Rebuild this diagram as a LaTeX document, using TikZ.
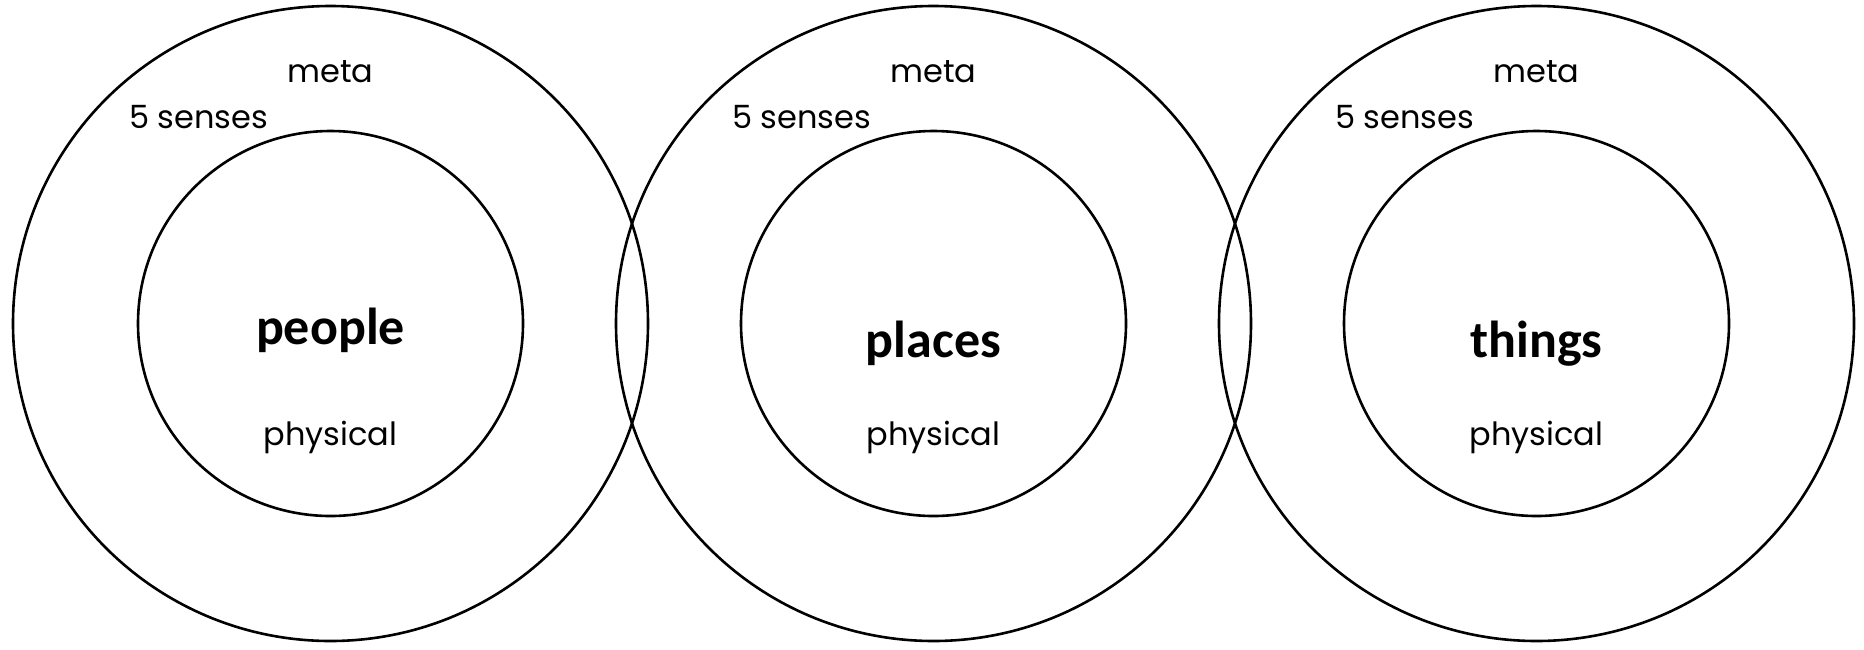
\documentclass[tikz,border=0pt]{standalone}
\usepackage{fontspec}
\setmainfont{Carlito}
\newfontfamily\handfont{Poppins}
\tikzset{
  ring/.style={draw=black, line width=2.6pt, circle, inner sep=0pt},
  hand/.style={font=\handfont\fontsize{32}{38}\selectfont, anchor=base, inner sep=0pt},
  title/.style={font=\bfseries\fontsize{52}{60}\selectfont, anchor=base, inner sep=0pt}
}
\begin{document}
\begin{tikzpicture}[x=1pt,y=-1pt]
\useasboundingbox (0,0) rectangle (1864,649);
\foreach \cx/\nm/\word/\by in {330.5/a/people/344, 933.5/b/places/357, 1536.5/c/things/357}{
  \node[ring, minimum size=635pt] (outer\nm) at (\cx,323.5) {};
  \node[ring, minimum size=385pt] (inner\nm) at (\cx,323.5) {};
  \node[title] (title\nm) at (\cx,\by) {\word};
  \node[hand] (meta\nm) at (\cx,82) {meta};
  \node[hand] (senses\nm) at ([xshift=-132pt]\cx,128) {5 senses};
  \node[hand] (phys\nm) at (\cx,445) {physical};
}
\end{tikzpicture}
\end{document}
